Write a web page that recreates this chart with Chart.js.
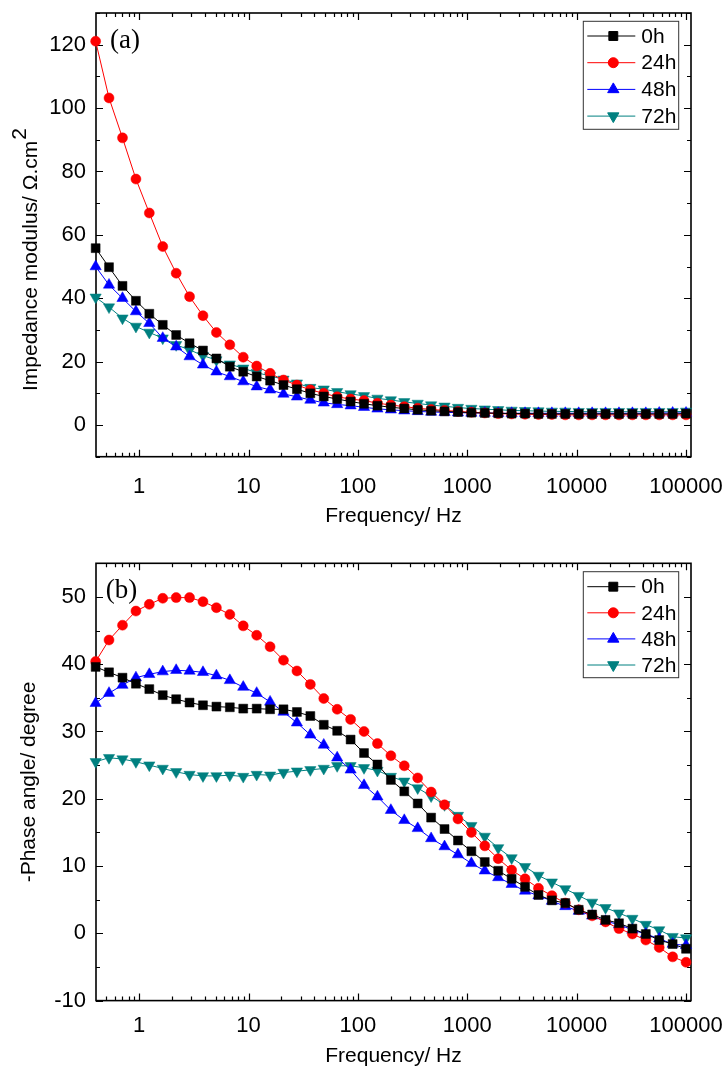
<!DOCTYPE html>
<html>
<head>
<meta charset="utf-8">
<script src="https://cdn.jsdelivr.net/npm/chart.js@4.4.0/dist/chart.umd.min.js"></script>
<style>
  body { margin: 0; background: #fff; }
  #wrap { position: relative; width: 728px; height: 1072px; }
  canvas { position: absolute; left: 0; }
</style>
</head>
<body>
<div id="wrap">
  <canvas id="chartA" width="728" height="545" style="top:0"></canvas>
  <canvas id="chartB" width="728" height="527" style="top:545px"></canvas>
</div>
<script>
// frequencies (Hz), same for every series
const freqHz = [0.400, 0.530, 0.704, 0.934, 1.238, 1.643, 2.179, 2.889, 3.832, 5.084,
  6.744, 8.944, 11.87, 15.74, 20.87, 27.69, 36.73, 48.72, 64.62, 85.72,
  113.7, 150.8, 200.1, 265.4, 352.0, 467.0, 619.4, 821.6, 1090, 1445,
  1917, 2543, 3373, 4474, 5934, 7871, 10440, 13850, 18370, 24370,
  32320, 42870, 56870, 75430, 100000];

const seriesNames = ['0h', '24h', '48h', '72h'];

// (a) impedance modulus, Ω.cm2
const zMod0h = [55.8, 49.8, 43.9, 39.2, 35.1, 31.6, 28.4, 25.8, 23.5, 21.0,
  18.4, 16.8, 15.3, 14.0, 12.6, 11.3, 10.0, 9.0, 8.2, 7.4,
  6.7, 6.1, 5.6, 5.2, 4.8, 4.5, 4.3, 4.1, 3.9, 3.8,
  3.7, 3.6, 3.6, 3.5, 3.5, 3.5, 3.5, 3.5, 3.5, 3.5,
  3.5, 3.5, 3.5, 3.5, 3.6];
const zMod24h = [121.1, 103.2, 90.6, 77.6, 66.9, 56.3, 47.9, 40.5, 34.5, 29.2,
  25.3, 21.4, 18.6, 16.3, 14.2, 12.6, 11.1, 10.0, 8.9, 8.2,
  7.7, 6.9, 6.3, 5.8, 5.3, 4.9, 4.6, 4.3, 4.0, 3.8,
  3.6, 3.5, 3.4, 3.3, 3.3, 3.2, 3.2, 3.2, 3.2, 3.2,
  3.2, 3.2, 3.2, 3.2, 3.2];
const zMod48h = [50.0, 44.2, 40.0, 35.8, 32.1, 27.4, 24.7, 21.6, 19.0, 16.8,
  15.3, 13.7, 12.1, 11.1, 9.8, 8.9, 7.9, 7.0, 6.5, 6.1,
  5.6, 5.1, 4.8, 4.5, 4.3, 4.1, 4.0, 3.9, 3.8, 3.8,
  3.7, 3.7, 3.7, 3.7, 3.7, 3.7, 3.7, 3.7, 3.7, 3.7,
  3.7, 3.7, 3.8, 3.8, 3.8];
const zMod72h = [40.3, 37.2, 33.7, 31.1, 29.2, 27.4, 25.3, 23.7, 21.9, 20.5,
  19.2, 17.9, 16.5, 15.5, 14.4, 13.2, 11.8, 11.3, 10.5, 9.8,
  9.2, 8.4, 7.9, 7.3, 6.8, 6.3, 5.9, 5.5, 5.2, 5.0,
  4.8, 4.6, 4.5, 4.4, 4.3, 4.3, 4.2, 4.2, 4.2, 4.2,
  4.2, 4.2, 4.2, 4.2, 4.3];

// (b) -phase angle, degree
const phase0h = [39.6, 38.8, 38.0, 37.1, 36.3, 35.4, 34.8, 34.3, 33.9, 33.7,
  33.6, 33.4, 33.4, 33.3, 33.3, 32.9, 32.3, 31.0, 30.1, 28.8,
  26.8, 25.1, 22.8, 21.1, 19.3, 17.2, 15.5, 13.8, 12.2, 10.6,
  9.3, 8.1, 6.9, 5.7, 4.9, 4.5, 3.5, 2.8, 2.0, 1.5,
  0.7, -0.1, -1.0, -1.6, -2.3];
const phase24h = [40.4, 43.6, 45.8, 47.9, 48.9, 49.8, 49.9, 49.9, 49.3, 48.4,
  47.4, 45.7, 44.3, 42.6, 40.6, 39.0, 37.0, 34.9, 33.3, 31.8,
  30.0, 28.2, 26.4, 24.9, 23.1, 21.0, 19.1, 17.0, 15.0, 13.0,
  11.1, 9.4, 8.1, 6.7, 5.6, 4.5, 3.5, 2.6, 1.7, 0.7,
  -0.1, -1.0, -2.1, -3.5, -4.3];
const phase48h = [34.2, 35.7, 36.9, 38.0, 38.5, 38.9, 39.1, 39.0, 38.8, 38.3,
  37.6, 36.6, 35.7, 34.4, 32.9, 31.3, 29.5, 28.0, 26.1, 24.3,
  22.0, 20.3, 18.3, 16.8, 15.6, 14.1, 12.9, 11.7, 10.4, 9.3,
  8.3, 7.3, 6.3, 5.6, 4.8, 4.0, 3.3, 2.6, 1.8, 1.3,
  0.5, -0.1, -0.8, -1.6, -1.8];
const phase72h = [25.5, 26.1, 25.9, 25.5, 25.0, 24.5, 24.0, 23.6, 23.4, 23.4,
  23.5, 23.3, 23.6, 23.5, 23.9, 24.1, 24.3, 24.5, 24.9, 24.9,
  24.6, 24.2, 23.3, 22.6, 21.6, 20.4, 19.1, 17.5, 16.0, 14.4,
  12.7, 11.2, 9.9, 8.6, 7.6, 6.6, 5.6, 4.6, 3.8, 3.0,
  2.2, 1.3, 0.5, -0.5, -0.7];

// tick labels
const xTickVals = [1, 10, 100, 1000, 10000, 100000];
const yTicksA = [0, 20, 40, 60, 80, 100, 120];
const yTicksB = [-10, 0, 10, 20, 30, 40, 50];

const SANS = "'Liberation Sans', Arial, sans-serif";
const SERIF = "'Liberation Serif', 'Times New Roman', serif";

// marker look per series
const looks = [
  { color: '#000000', pointStyle: 'rect', pointRadius: 6.3, rotation: 0 },
  { color: '#ff0000', pointStyle: 'circle', pointRadius: 5, rotation: 0 },
  { color: '#0000ff', pointStyle: 'triangle', pointRadius: 6.5, rotation: 0 },
  { color: '#008080', pointStyle: 'triangle', pointRadius: 6.5, rotation: 180 }
];

function makeDatasets(valueLists) {
  return valueLists.map((vals, i) => ({
    label: seriesNames[i],
    data: freqHz.map((f, k) => ({ x: f, y: vals[k] })),
    borderColor: looks[i].color,
    backgroundColor: looks[i].color,
    borderWidth: 1,
    pointStyle: looks[i].pointStyle,
    pointRadius: looks[i].pointRadius,
    pointRotation: looks[i].rotation,
    pointBorderWidth: 0.5,
    pointHoverRadius: looks[i].pointRadius,
    tension: 0,
    clip: false
  }));
}

// frame with inward ticks on all four sides
const framePlugin = {
  id: 'frame',
  beforeDatasetsDraw(chart, args, opts) {
    const { ctx, chartArea: a, scales: { x, y } } = chart;
    ctx.save();
    ctx.strokeStyle = '#000';
    ctx.lineWidth = 1.2;
    ctx.beginPath();
    for (let d = -1; d <= 5; d++) {
      for (let m = 1; m <= 9; m++) {
        const v = m * Math.pow(10, d);
        if (v < x.min || v > x.max) continue;
        const px = Math.round(x.getPixelForValue(v)) + 0.5;
        const len = m === 1 ? 7 : 4;
        ctx.moveTo(px, a.bottom); ctx.lineTo(px, a.bottom - len);
        ctx.moveTo(px, a.top); ctx.lineTo(px, a.top + len);
      }
    }
    for (let v = Math.ceil(y.min / opts.minor) * opts.minor; v <= y.max; v += opts.minor) {
      const py = Math.round(y.getPixelForValue(v)) + 0.5;
      const len = Math.abs(v % opts.major) < 1e-9 ? 7 : 4;
      ctx.moveTo(a.left, py); ctx.lineTo(a.left + len, py);
      ctx.moveTo(a.right, py); ctx.lineTo(a.right - len, py);
    }
    ctx.stroke();
    ctx.lineWidth = 1.6;
    ctx.strokeRect(a.left, a.top, a.right - a.left, a.bottom - a.top);
    ctx.restore();
  }
};

// legend box with line + marker samples, inside the plot
const boxLegendPlugin = {
  id: 'boxLegend',
  afterDatasetsDraw(chart, args, opts) {
    const { ctx, chartArea: a } = chart;
    const left = a.right - opts.right - opts.width;
    const top = a.top + opts.top;
    ctx.save();
    ctx.fillStyle = '#fff';
    ctx.fillRect(left, top, opts.width, opts.height);
    ctx.strokeStyle = '#333';
    ctx.lineWidth = 1;
    ctx.strokeRect(left, top, opts.width, opts.height);
    ctx.font = '21px ' + SANS;
    ctx.textBaseline = 'middle';
    ctx.textAlign = 'left';
    chart.data.datasets.forEach((ds, i) => {
      const cy = top + opts.first + i * opts.rowH;
      ctx.strokeStyle = ds.borderColor;
      ctx.fillStyle = ds.backgroundColor;
      ctx.lineWidth = 1;
      ctx.beginPath();
      ctx.moveTo(left + 4, cy);
      ctx.lineTo(left + 52, cy);
      ctx.stroke();
      Chart.helpers.drawPoint(ctx, {
        pointStyle: ds.pointStyle, radius: ds.pointRadius,
        rotation: ds.pointRotation, borderWidth: 0.5
      }, left + 30, cy);
      ctx.fillStyle = '#000';
      ctx.fillText(ds.label, left + 58, cy + 1);
    });
    ctx.restore();
  }
};

// panel tag "(a)" / "(b)" and optional y title with a raised "2"
const tagPlugin = {
  id: 'tag',
  afterDatasetsDraw(chart, args, opts) {
    const { ctx, chartArea: a } = chart;
    ctx.save();
    ctx.font = '27px ' + SERIF;
    ctx.fillStyle = '#000';
    ctx.textBaseline = 'alphabetic';
    ctx.fillText(opts.text, a.left + opts.dx, a.top + opts.dy);
    if (opts.yTitle) {
      ctx.font = '21px ' + SANS;
      ctx.translate(opts.yTitle.x, opts.yTitle.y);
      ctx.rotate(-Math.PI / 2);
      ctx.fillText(opts.yTitle.text, 0, 0);
      const w = ctx.measureText(opts.yTitle.text).width;
      ctx.fillText(opts.yTitle.sup, w + 1, -11);
    }
    ctx.restore();
  }
};

function makeChart(id, cfg) {
  return new Chart(document.getElementById(id), {
    type: 'line',
    data: { datasets: makeDatasets(cfg.series) },
    options: {
      responsive: false,
      animation: false,
      devicePixelRatio: 1,
      events: [],
      layout: { padding: { top: cfg.padTop, right: 37, left: 0, bottom: 0 } },
      plugins: {
        legend: { display: false },
        tooltip: { enabled: false },
        frame: { minor: cfg.yMinor, major: cfg.yMajor },
        boxLegend: cfg.legend,
        tag: cfg.tag
      },
      scales: {
        x: {
          type: 'logarithmic',
          min: 0.403,
          max: 111000,
          grid: { display: false, drawTicks: false },
          border: { display: false },
          afterBuildTicks: s => { s.ticks = xTickVals.map(v => ({ value: v })); },
          afterFit: s => { s.height = cfg.xAxisH; s.paddingLeft = 0; s.paddingRight = 0; },
          ticks: {
            callback: v => String(v),
            font: { family: SANS, size: 22 },
            color: '#000',
            padding: cfg.xTickPad,
            maxRotation: 0,
            autoSkip: false
          },
          title: {
            display: true,
            text: 'Frequency/ Hz',
            font: { family: SANS, size: 21 },
            color: '#000',
            padding: { top: 0, bottom: cfg.xTitlePad }
          }
        },
        y: {
          min: cfg.yMin,
          max: cfg.yMax,
          grid: { display: false, drawTicks: false },
          border: { display: false },
          afterBuildTicks: s => { s.ticks = cfg.yTicks.map(v => ({ value: v })); },
          afterFit: s => { s.width = 96; s.paddingTop = 0; s.paddingBottom = 0; },
          ticks: {
            font: { family: SANS, size: 22 },
            color: '#000',
            padding: 10
          },
          title: {
            display: !!cfg.yTitle,
            text: cfg.yTitle || '',
            font: { family: SANS, size: 21 },
            color: '#000',
            padding: { top: 17, bottom: 0 }
          }
        }
      }
    },
    plugins: [framePlugin, boxLegendPlugin, tagPlugin]
  });
}

makeChart('chartA', {
  series: [zMod0h, zMod24h, zMod48h, zMod72h],
  padTop: 13,
  xAxisH: 88.3,
  xTickPad: 17.5,
  xTitlePad: 16.6,
  yMin: -10, yMax: 130, yTicks: yTicksA, yMinor: 10, yMajor: 20,
  yTitle: null,
  legend: { right: 12.3, width: 95.4, top: 8.3, height: 108, first: 14.7, rowH: 26.7 },
  tag: { text: '(a)', dx: 14, dy: 34.6,
    yTitle: { text: 'Impedance modulus/ Ω.cm', sup: '2', x: 36.7, y: 391 } }
});

makeChart('chartB', {
  series: [phase0h, phase24h, phase48h, phase72h],
  padTop: 18.3,
  xAxisH: 71.4,
  xTickPad: 12.2,
  xTitlePad: 3.4,
  yMin: -10, yMax: 55, yTicks: yTicksB, yMinor: 5, yMajor: 10,
  yTitle: '-Phase angle/ degree',
  legend: { right: 12.3, width: 95.4, top: 8.4, height: 106, first: 15, rowH: 26.1 },
  tag: { text: '(b)', dx: 9.7, dy: 34.3 }
});
</script>
</body>
</html>
